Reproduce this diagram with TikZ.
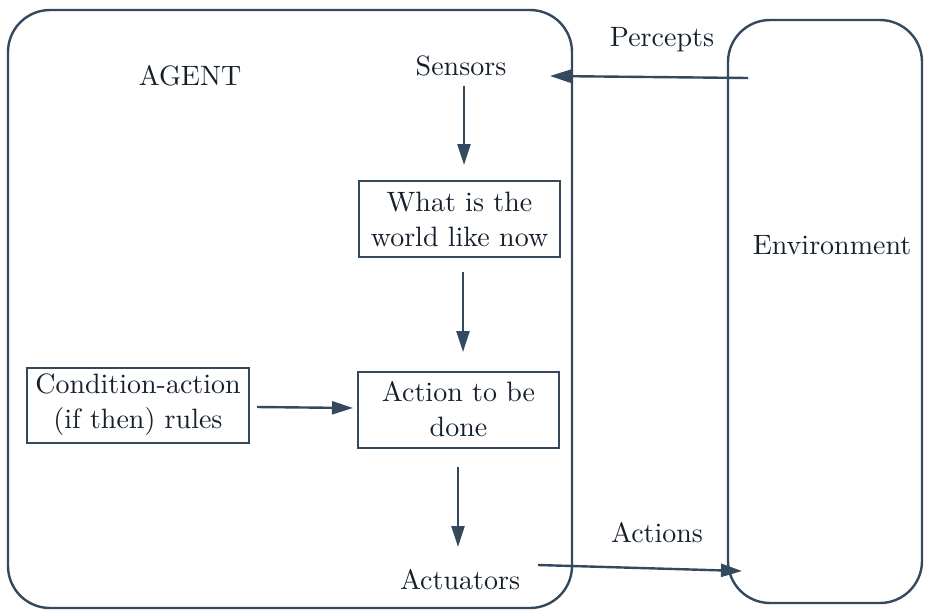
\documentclass[tikz,border=0pt]{standalone}
\usepackage{fontspec}
\setmainfont{lmroman10-regular}[Extension=.otf]
\usetikzlibrary{arrows.meta}
\definecolor{ink}{HTML}{34495E}
\definecolor{txt}{HTML}{16202C}
\begin{document}
\begin{tikzpicture}[x=1pt,y=-1pt,
  every node/.style={text=txt,font=\fontsize{28}{35}\selectfont,inner sep=0pt},
  frame/.style={draw=ink,line width=2.4pt,rounded corners=42pt},
  stepbox/.style={draw=ink,line width=2pt,align=center,minimum width=201pt,minimum height=76pt},
  flow/.style={draw=ink,line width=2.4pt,-{Triangle[length=21pt,width=13pt]}}]
\useasboundingbox (0,0) rectangle (925,611);
% agent and environment frames
\draw[frame] (8,10) rectangle (572,608);
\draw[frame] (728,20) rectangle (922,603);
% labels
\node (agent) at (190,76) {AGENT};
\node (sensors) at (461,66) {Sensors};
\node (actuators) at (460,580) {Actuators};
\node (env) at (832,245) {Environment};
\node (percepts) at (662,40) {Percepts};
\node (actions) at (657,533) {Actions};
% processing boxes
\node[stepbox] (world) at (459.5,219) {What is the\\world like now};
\node[stepbox] (act) at (458.5,409.5) {Action to be\\done};
\node[stepbox,minimum width=222pt,minimum height=75pt] (rules) at (138,405) {Condition-action\\(if then) rules};
% connector ends
\coordinate (s1) at (464,86);   \coordinate (s2) at (464,165);
\coordinate (w1) at (463,272);  \coordinate (w2) at (463,352);
\coordinate (a1) at (458,467);  \coordinate (a2) at (458,547);
\coordinate (r1) at (257,407);  \coordinate (r2) at (353,408);
\coordinate (pin) at (748,78);  \coordinate (pout) at (550,76);
\coordinate (ain) at (538,565); \coordinate (aout) at (742,571);
% connectors
\draw[flow] (s1) -- (s2);
\draw[flow] (w1) -- (w2);
\draw[flow] (a1) -- (a2);
\draw[flow] (r1) -- (r2);
\draw[flow] (pin) -- (pout);
\draw[flow] (ain) -- (aout);
\end{tikzpicture}
\end{document}
